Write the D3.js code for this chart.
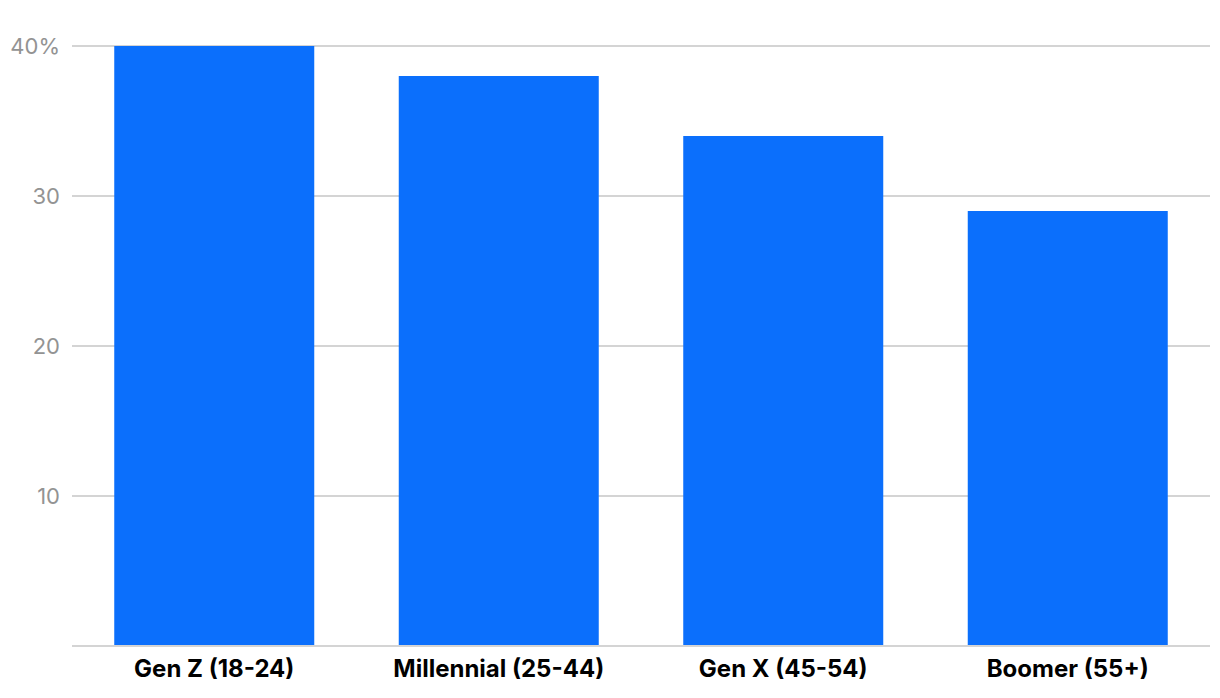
<!DOCTYPE html>
<html><head><meta charset="utf-8">
<script src="https://cdn.jsdelivr.net/npm/d3@7"></script>
<style>body{margin:0;background:#fff;}svg{display:block;}</style>
</head><body><svg id="c" width="1220" height="698"></svg>
<script>
const categories = ["Gen Z (18-24)", "Millennial (25-44)", "Gen X (45-54)", "Boomer (55+)"];
const values = [40, 38, 34, 29];
const yTicks = [10, 20, 30, 40];
const yTickLabels = ["10", "20", "30", "40%"];

(function () {
const svg = d3.select("#c");
const mLeft = 72, mRight = 1210, mTop = 46, mBottom = 646;
const x = d3.scaleBand().domain(categories).range([mLeft, mRight]).paddingInner(0.297).paddingOuter(0.1485);
const y = d3.scaleLinear().domain([0, 40]).range([mBottom, mTop]);

svg.append("g").selectAll("line").data(yTicks).join("line")
  .attr("x1", mLeft).attr("x2", mRight)
  .attr("y1", d => y(d)).attr("y2", d => y(d))
  .attr("stroke", "#d4d4d4").attr("stroke-width", 2);

svg.append("g").selectAll("rect").data(values).join("rect")
  .attr("x", (d, i) => x(categories[i])).attr("width", x.bandwidth())
  .attr("y", d => y(d)).attr("height", d => y(0) - y(d))
  .attr("fill", "#0b6ffc");

svg.append("line").attr("x1", mLeft).attr("x2", mRight).attr("y1", y(0)).attr("y2", y(0))
  .attr("stroke", "#d4d4d4").attr("stroke-width", 2);

svg.append("g").selectAll("text").data(yTicks).join("text")
  .attr("x", 60).attr("y", d => y(d)).attr("dy", "0.35em")
  .attr("text-anchor", "end").attr("fill", "#939393")
  .style("font-family", "Inter, 'Open Sans', sans-serif").style("font-size", "22px")
  .text((d, i) => yTickLabels[i]);

svg.append("g").selectAll("text").data(categories).join("text")
  .attr("x", d => x(d) + x.bandwidth() / 2).attr("y", 669).attr("dy", "0.35em")
  .attr("text-anchor", "middle").attr("fill", "#000")
  .style("font-family", "Inter, 'Open Sans', sans-serif").style("font-size", "24px").style("font-weight", "700")
  .text(d => d);
})();
</script></body></html>
